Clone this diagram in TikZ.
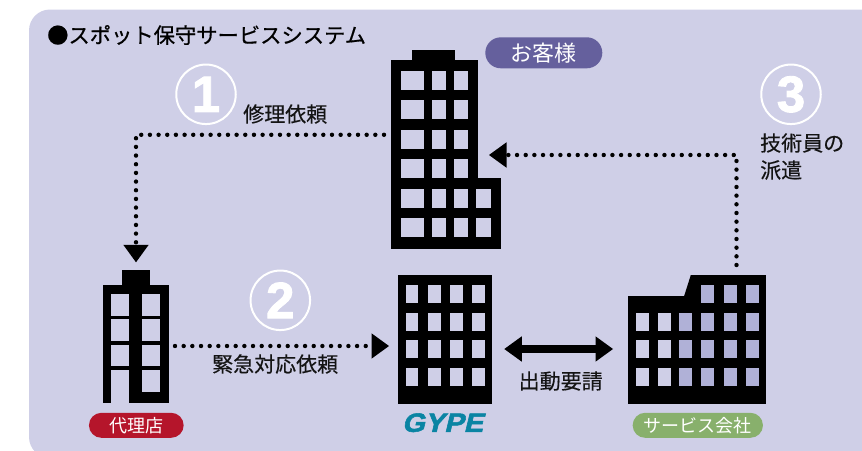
\documentclass[tikz,border=0pt]{standalone}
\usepackage{fontspec}
\setmainfont{Noto Sans CJK JP}
\newfontfamily\labfont[FakeBold=0.25]{Noto Sans CJK JP}
\newfontfamily\titlefont[FakeBold=0.6]{Noto Sans CJK JP}
\newfontfamily\heavyfont[FakeBold=1.8]{Liberation Sans Bold}
\newfontfamily\gypefont[FakeBold=2,FakeSlant=0.22]{Liberation Sans Bold}
\usetikzlibrary{arrows.meta,shapes.misc}
\definecolor{panel}{HTML}{CFCFE7}
\definecolor{winblue}{HTML}{B0B1D7}
\definecolor{pillpurple}{HTML}{65609D}
\definecolor{pillred}{HTML}{B5152B}
\definecolor{pillgreen}{HTML}{88B06C}
\definecolor{gypeblue}{HTML}{0A84A3}
\newcommand{\fs}[1]{\fontsize{#1}{#1}\selectfont}
\newcommand{\blk}[5]{\node[body,minimum width={(#4)-(#2)},minimum height={(#5)-(#3)}] (#1) at ({(#2+#4)/2},{(#3+#5)/2}) {};}
\newcommand{\wins}[3]{\foreach \xa/\xb in {#2}{\foreach \ya/\yb in {#3}{\fill[#1] (\xa,\ya) rectangle (\xb,\yb);}}}
\tikzset{
  body/.style={fill=black,inner sep=0pt,outer sep=0pt},
  dotline/.style={line width=4.4pt,line cap=round,dash pattern=on 0pt off 8.67pt},
  tipA/.style={-{Triangle[length=17.5pt,width=25.4pt,line width=0pt]}},
  numcircle/.style={circle,draw=white,line width=2pt,minimum size=59.5pt,inner sep=0pt,text=white,font=\heavyfont\fs{51}},
  lab/.style={inner sep=0pt,font=\labfont\fs{21},text=black!92,anchor=west},
  pill/.style={rounded rectangle,inner sep=0pt,text=white,minimum height=25pt}
}
\begin{document}
\begin{tikzpicture}[x=1pt,y=-1pt]
\useasboundingbox (0,0) rectangle (862,450);
\clip (0,0) rectangle (862,450);
\fill[panel,rounded corners=21pt] (29,9.5) rectangle (900,458);

% customer building
\blk{custtop}{411.7}{50}{455}{60}
\blk{cust}{390.5}{59.5}{478}{249}
\blk{custwing}{478}{178.3}{501.3}{249}
\wins{panel}{400.7/424.3,432.3/446,454/468}{71.3/90.3,100.3/119.3,129.7/148.7,159.3/178.3,188.7/207.7,218/237.3}
\wins{panel}{475.7/491}{188.7/207.7,218/237.3}

% agency building
\blk{agtop}{121.7}{270}{150.3}{286}
\blk{ag}{102.7}{285.3}{169}{403}
\wins{panel}{111/129,141.7/159.7}{294.3/315.7,319.3/340.7,345/366.3}
\wins{panel}{141.7/159.7}{370/391.7}
\wins{panel}{111/129}{370/403.5}

% GYPE building
\blk{gype}{398.3}{275}{491.7}{403.7}
\wins{panel}{405.7/418.3,427.7/440.7,450/463,472/485}{285/302.7,312.7/330.7,340.3/358.3,368/386}

% service company building
\blk{svc}{628.3}{296.3}{765.7}{403.7}
\blk{svctop}{690.7}{275}{765.7}{297}
\fill[black] (684,296.5) -- (690.8,275) -- (690.8,296.5) -- cycle;
\wins{panel}{636/648.7,658/670.7}{313/331,340/358,368/386}
\wins{winblue}{679/692}{313/331,340/358,368/386}
\wins{winblue}{701/714,724/737,746/759}{285/303,313/331,340/358,368/386}

% connectors
\coordinate (c1) at (0,134.8);
\coordinate (c2) at (0,346);
\coordinate (c3) at (736.5,155);
\coordinate (c4) at (0,349);
\draw[dotline,tipA,shorten <=6.5pt,shorten >=7.7pt] (cust.west |- c1) -| (agtop.north);
\draw[dotline,tipA,shorten <=6pt,shorten >=9.3pt] (ag.east |- c2) -- (gype.west |- c2);
\draw[dotline,tipA,shorten <=10pt,shorten >=11pt] (svctop.north -| c3) |- (cust.east |- c3);
\draw[line width=8.6pt,{Triangle[length=17.5pt,width=25.4pt,line width=0pt]}-{Triangle[length=17.5pt,width=25.4pt,line width=0pt]},shorten <=12.6pt,shorten >=15.3pt] (gype.east |- c4) -- (svc.west |- c4);

% circled numbers
\node[numcircle] (n1) at (206,94.3) {1};
\node[numcircle] (n2) at (280.3,300.3) {2};
\node[numcircle] (n3) at (791,94.3) {3};

% labels
\node[lab,font=\titlefont\fs{21.3},text=black] (title) at (47,35) {●スポット保守サービスシステム};
\node[lab] (l1) at (243,114) {修理依頼};
\node[lab] (l2) at (212,364) {緊急対応依頼};
\node[lab] (l3) at (760,143) {技術員の};
\node[lab] (l3b) at (760,170) {派遣};
\node[lab] (l4) at (518.5,381) {出動要請};

% pills
\node[pill,fill=pillpurple,minimum width=117pt,minimum height=31pt,font=\fs{22}] (p1) at (543.8,52.8) {お客様};
\node[pill,fill=pillred,minimum width=94.7pt,font=\fs{18}] (p2) at (136.3,425.3) {代理店};
\node[pill,fill=pillgreen,minimum width=130.3pt,font=\fs{18}] (p3) at (697.8,425.3) {サービス会社};
\node[inner sep=0pt,text=gypeblue,font=\gypefont\fs{26.5},xscale=1.1] (g) at (442.5,422.7) {GYPE};
\end{tikzpicture}
\end{document}
